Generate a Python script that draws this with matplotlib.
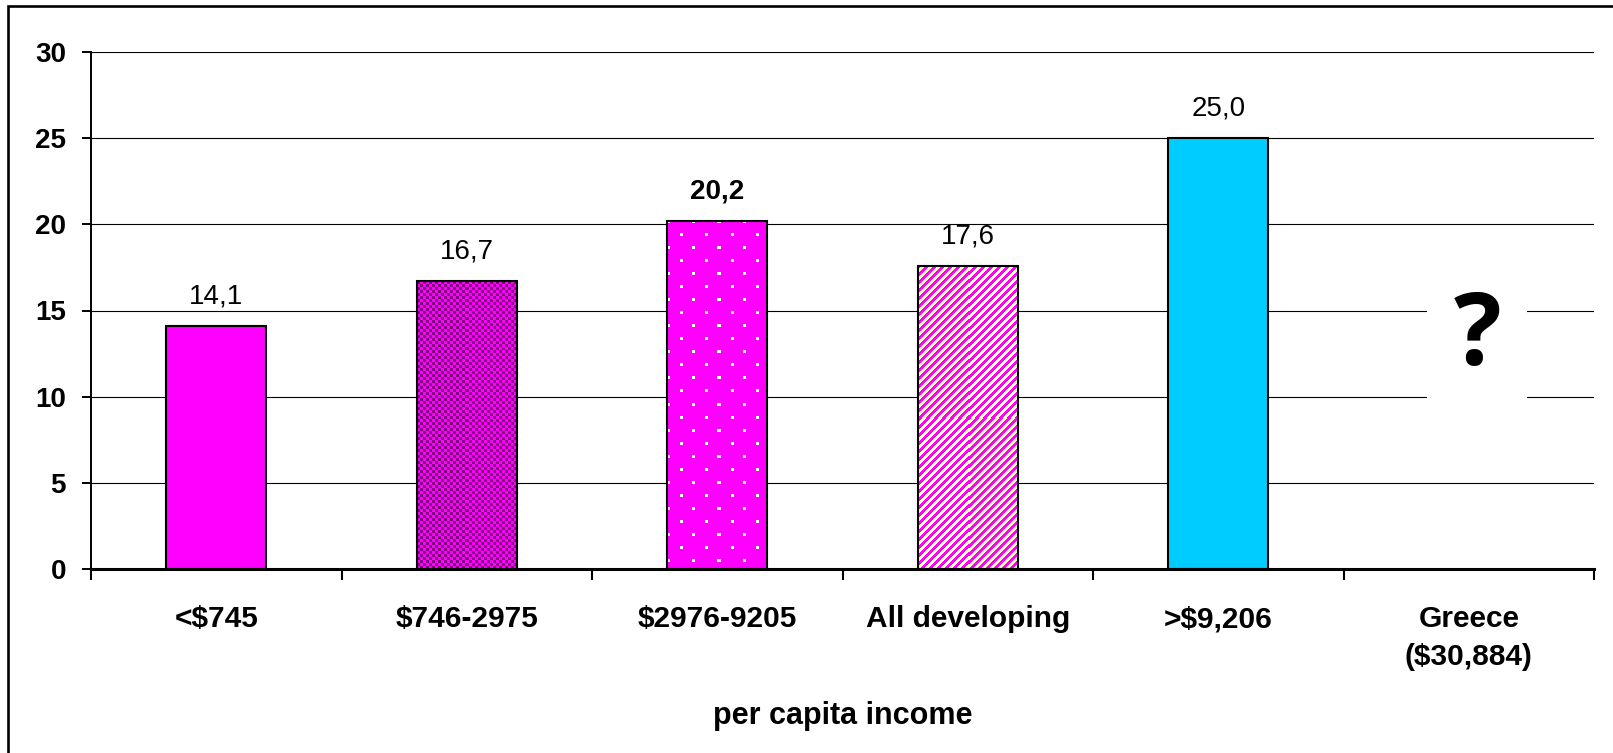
import numpy as np
import matplotlib
matplotlib.use("Agg")
import matplotlib.pyplot as plt
from matplotlib.patches import Rectangle

plt.rcParams["font.family"] = ["Liberation Sans", "DejaVu Sans"]

# ---- data -------------------------------------------------------------
categories = ["<$745", "$746-2975", "$2976-9205", "All developing",
              ">$9,206", "Greece\n($30,884)"]
values = [14.1, 16.7, 20.2, 17.6, 25.0, np.nan]
value_labels = ["14,1", "16,7", "20,2", "17,6", "25,0", ""]
bold_labels = [False, False, True, False, False, False]
y_ticks = [0, 5, 10, 15, 20, 25, 30]
x_label = "per capita income"
unknown_mark = "?"

MAGENTA = "#FF00FF"
PURPLE = "#800080"
CREAM = "#FFFFCC"
CYAN = "#00CCFF"

W, H, DPI = 1613, 753, 100
fig = plt.figure(figsize=(W / DPI, H / DPI), dpi=DPI)
ax = fig.add_axes([91 / W, 1 - 569 / H, (1594 - 91) / W, (569 - 52) / H])

x = np.arange(len(categories))
ax.set_xlim(-0.5, len(categories) - 0.5)
ax.set_ylim(0, 30)

# outer frame of the slide
fig.patches.append(Rectangle((8 / W, -0.1), 1.2, 1.1 - 6 / H,
                             transform=fig.transFigure, fill=False,
                             edgecolor="black", linewidth=1.9,
                             clip_on=False, zorder=0))

# gridlines
ax.set_yticks(y_ticks)
ax.yaxis.grid(True, color="black", linewidth=0.8)
ax.set_axisbelow(True)

face = [MAGENTA, MAGENTA, MAGENTA, CREAM, CYAN, "white"]
bars = ax.bar(x, np.nan_to_num(values), width=0.4, color=face,
              edgecolor="none", zorder=2)


def pattern(kind, h, w):
    """Pixel pattern filling a bar of h x w pixels."""
    i, j = np.mgrid[0:h, 0:w]
    img = np.ones((h, w, 3))
    mag = np.array(matplotlib.colors.to_rgb(MAGENTA))
    if kind == "checker":
        dark = np.array(matplotlib.colors.to_rgb(PURPLE))
        mask = ((i // 3) + (j // 3)) % 2 == 0
        img[:] = mag
        img[mask] = dark
    elif kind == "dots":
        img[:] = mag
        row = i % 26
        col_a = (j % 25)
        col_b = ((j + 12) % 25)
        dot = ((row < 3) & (col_a < 3)) | ((row >= 13) & (row < 16) & (col_b < 3))
        img[dot] = 1.0
    elif kind == "stripes":
        cream = np.array(matplotlib.colors.to_rgb(CREAM))
        img[:] = cream
        img[((i + j) % 8) < 4] = mag
    return img


patterns = {1: "checker", 2: "dots", 3: "stripes"}
fig.canvas.draw()
for idx, kind in patterns.items():
    b = bars[idx]
    x0, y0 = b.get_x(), b.get_y()
    x1, y1 = x0 + b.get_width(), y0 + b.get_height()
    (px0, py0), (px1, py1) = ax.transData.transform([(x0, y0), (x1, y1)])
    wpx, hpx = int(round(px1 - px0)), int(round(py1 - py0))
    im = ax.imshow(pattern(kind, hpx, wpx), extent=(x0, x1, y0, y1),
                   aspect="auto", interpolation="nearest", zorder=2.5)
    im.set_clip_path(b)
ax.set_xlim(-0.5, len(categories) - 0.5)
ax.set_ylim(0, 30)

# bar outlines
for b, v in zip(bars, values):
    if np.isfinite(v):
        ax.add_patch(Rectangle((b.get_x(), b.get_y()), b.get_width(),
                               b.get_height(), fill=False,
                               edgecolor="black", linewidth=1.5, zorder=3))

# value labels
for xi, v, lab, bold in zip(x, values, value_labels, bold_labels):
    if np.isfinite(v):
        ax.annotate(lab, (xi, v), xytext=(0, 16), textcoords="offset points",
                    ha="center", va="baseline", fontsize=20,
                    fontweight="bold" if bold else "normal", zorder=4)

# unknown value for Greece
ax.annotate(unknown_mark, (x[-1], 13.4), xytext=(6, 0),
            textcoords="offset points", ha="center", va="center",
            fontsize=72, fontweight="bold",
            family=["Open Sans", "DejaVu Sans"], zorder=4,
            bbox=dict(boxstyle="square,pad=0.26", facecolor="white",
                      edgecolor="none"))

# axes styling
for s in ("top", "right"):
    ax.spines[s].set_visible(False)
ax.spines["left"].set_linewidth(1.4)
ax.spines["bottom"].set_linewidth(2.2)
ax.spines["bottom"].set_zorder(5)

ax.tick_params(axis="y", direction="out", length=6.5, width=1.4, pad=11.5,
               labelsize=20)
for t in ax.get_yticklabels():
    t.set_fontweight("bold")

ax.set_xticks(x)
ax.set_xticklabels(categories, fontsize=21.5, fontweight="bold",
                   linespacing=1.45)
ax.tick_params(axis="x", which="major", length=0, pad=26)
ax.set_xticks(np.arange(-0.5, len(categories)), minor=True)
ax.tick_params(axis="x", which="minor", direction="out", length=8, width=1.5)

ax.set_xlabel(x_label, fontsize=22, fontweight="bold")
ax.xaxis.set_label_coords(0.5, -0.255)

fig.savefig("out.png", dpi=DPI)
